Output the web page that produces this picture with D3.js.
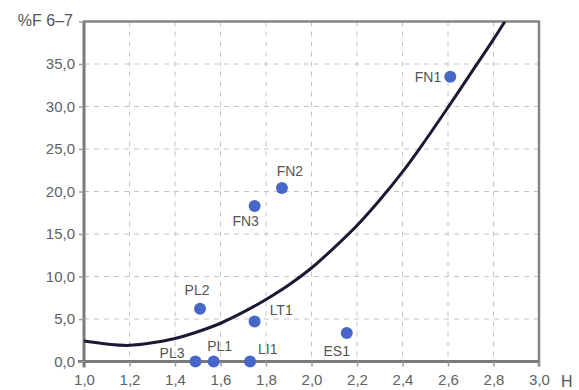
<!DOCTYPE html>
<html>
<head>
<meta charset="utf-8">
<script src="https://cdn.jsdelivr.net/npm/d3@7"></script>
<style>
  html, body { margin: 0; padding: 0; background: #fff; }
  svg { display: block; font-family: "Liberation Sans", Arial, sans-serif; }
  .tick text { fill: #616161; font-size: 15px; }
</style>
</head>
<body>
<svg id="chart" width="579" height="390"></svg>
<script>
// sample points
const names = ['FN1', 'FN2', 'FN3', 'PL2', 'LT1', 'ES1', 'PL3', 'PL1', 'LI1'];
const hValues = [2.61, 1.87, 1.75, 1.51, 1.75, 2.155, 1.49, 1.57, 1.73];
const fValues = [33.5, 20.4, 18.3, 6.2, 4.7, 3.35, 0, 0, 0];

// fitted curve
const curveH = [1.0, 1.1, 1.2, 1.3, 1.4, 1.5, 1.6, 1.7, 1.8, 1.9, 2.0, 2.1, 2.2, 2.3, 2.4, 2.5, 2.6, 2.7, 2.8, 2.85];
const curveF = [2.4, 2.05, 1.9, 2.2, 2.7, 3.5, 4.5, 5.8, 7.3, 9.0, 11.0, 13.4, 16.0, 19.0, 22.3, 26.0, 29.9, 33.9, 37.9, 40.0];

const xTicks = [1.0, 1.2, 1.4, 1.6, 1.8, 2.0, 2.2, 2.4, 2.6, 2.8, 3.0];
const yTicks = [0, 5, 10, 15, 20, 25, 30, 35];

// label placement around each point
const labelPos = {
  FN1: { anchor: 'end', dx: -9, dy: 5 },
  FN2: { anchor: 'middle', dx: 8, dy: -12 },
  FN3: { anchor: 'middle', dx: -9, dy: 20 },
  PL2: { anchor: 'middle', dx: -3, dy: -14 },
  LT1: { anchor: 'start', dx: 15, dy: -7 },
  ES1: { anchor: 'middle', dx: -10, dy: 23 },
  PL3: { anchor: 'end', dx: -11, dy: -4 },
  PL1: { anchor: 'middle', dx: 6, dy: -11 },
  LI1: { anchor: 'start', dx: 8, dy: -8 },
};

const fmt = d => d.toFixed(1).replace('.', ',');

const svg = d3.select('#chart');
const margin = { top: 21.5, right: 40, bottom: 28.5, left: 84 };
const width = 579 - margin.left - margin.right;
const height = 390 - margin.top - margin.bottom;

const x = d3.scaleLinear().domain([1.0, 3.0]).range([0, width]);
const y = d3.scaleLinear().domain([0, 40]).range([height, 0]);

const g = svg.append('g').attr('transform', `translate(${margin.left},${margin.top})`);

// dashed grid
g.append('g')
  .selectAll('line')
  .data(xTicks.slice(1, -1))
  .join('line')
  .attr('x1', d => x(d)).attr('x2', d => x(d))
  .attr('y1', 0).attr('y2', height)
  .attr('stroke', '#c4c4c4')
  .attr('stroke-dasharray', '5,5');

g.append('g')
  .selectAll('line')
  .data(yTicks.slice(1))
  .join('line')
  .attr('x1', 0).attr('x2', width)
  .attr('y1', d => y(d)).attr('y2', d => y(d))
  .attr('stroke', '#c4c4c4')
  .attr('stroke-dasharray', '5,5');

// frame top + right
g.append('path')
  .attr('d', `M0,${y(40)}H${x(3.0)}V${height + 5}`)
  .attr('fill', 'none')
  .attr('stroke', '#858585')
  .attr('stroke-width', 2.5);

// axes
const xAxis = g.append('g')
  .attr('transform', `translate(0,${height})`)
  .call(d3.axisBottom(x).tickValues(xTicks).tickFormat(fmt).tickSize(5).tickPadding(8).tickSizeOuter(0));

const yAxis = g.append('g')
  .call(d3.axisLeft(y).tickValues(yTicks.concat([40])).tickFormat(d => d === 40 ? '' : fmt(d)).tickSize(5).tickPadding(4).tickSizeOuter(0));

[xAxis, yAxis].forEach(a => {
  a.select('.domain').attr('stroke', '#7a7a7a').attr('stroke-width', 3);
  a.selectAll('.tick line').attr('stroke', '#9a9a9a').attr('stroke-width', 1.5);
});
xAxis.select('.domain').attr('d', `M-6,0H${width}`);
yAxis.select('.domain').attr('d', `M0,-1V${height + 6}`);

// axis titles
svg.append('text')
  .attr('x', 73).attr('y', 26)
  .attr('text-anchor', 'end')
  .attr('fill', '#555')
  .attr('font-size', 16)
  .text('%F 6–7');

svg.append('text')
  .attr('x', 561).attr('y', 387)
  .attr('fill', '#555')
  .attr('font-size', 16)
  .text('H');

// curve
g.append('clipPath').attr('id', 'plot-clip')
  .append('rect').attr('x', 0).attr('y', 0).attr('width', width).attr('height', height);

const line = d3.line()
  .x(d => x(d[0]))
  .y(d => y(d[1]))
  .curve(d3.curveCatmullRom);

g.append('path')
  .datum(curveH.map((h, i) => [h, curveF[i]]))
  .attr('clip-path', 'url(#plot-clip)')
  .attr('fill', 'none')
  .attr('stroke', '#1b1a35')
  .attr('stroke-width', 3)
  .attr('d', line);

// points + labels
const pts = names.map((n, i) => ({ name: n, h: hValues[i], f: fValues[i] }));

g.append('g')
  .selectAll('circle')
  .data(pts)
  .join('circle')
  .attr('cx', d => x(d.h))
  .attr('cy', d => y(d.f))
  .attr('r', 6)
  .attr('fill', '#4868c8');

g.append('g')
  .selectAll('text')
  .data(pts)
  .join('text')
  .attr('x', d => x(d.h) + labelPos[d.name].dx)
  .attr('y', d => y(d.f) + labelPos[d.name].dy)
  .attr('text-anchor', d => labelPos[d.name].anchor)
  .attr('fill', '#555')
  .attr('font-size', 14)
  .text(d => d.name);
</script>
</body>
</html>
